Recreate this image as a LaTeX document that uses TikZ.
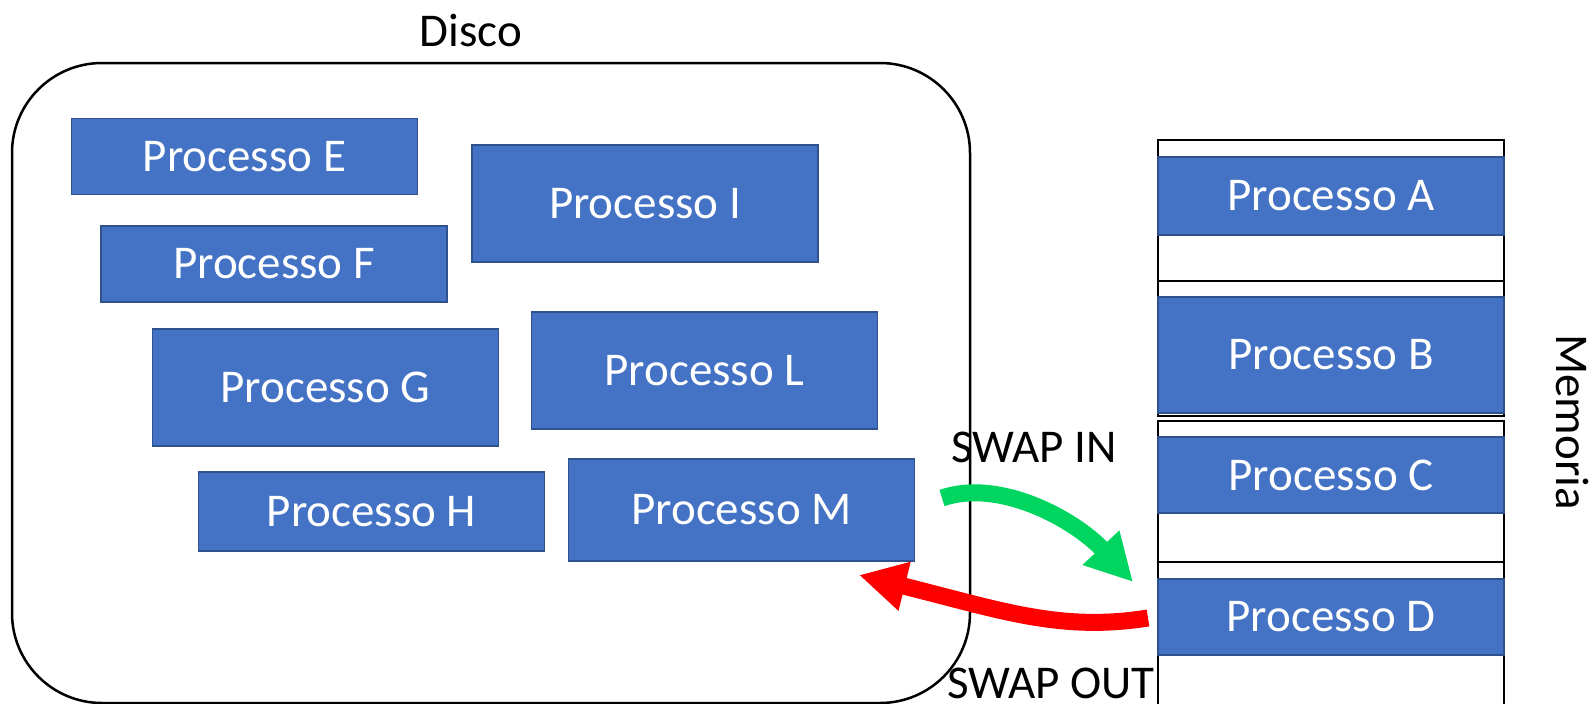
\documentclass[tikz,border=0pt]{standalone}
\usepackage{fontspec}
\setmainfont{Carlito}
\usetikzlibrary{arrows.meta}
\definecolor{procblue}{HTML}{4472C4}
\definecolor{procedge}{HTML}{2F528F}
\definecolor{swapgreen}{HTML}{00D65F}
\definecolor{swapred}{HTML}{FF0000}
\tikzset{
  bigfont/.style={font=\fontsize{47}{56}\selectfont},
  proc/.style={bigfont, draw=procedge, line width=1.5pt, fill=procblue, text=white,
    minimum width=346pt, minimum height=#1, inner sep=0pt},
  proc/.default=76pt,
  memseg/.style={draw=black, line width=2pt, fill=white},
  swaparrow/.style={line width=17pt, -{Triangle[length=47pt, width=47pt]}}
}

\begin{document}
\begin{tikzpicture}[x=1pt, y=-1pt]
    \useasboundingbox (0,0) rectangle (1593,704);
    %the disk
    \draw[line width=2.5pt, rounded corners=90pt] (12,63) rectangle (970,703);
    \node[bigfont] (disco) at (471,31) {Disco};
    %processes on disk
    \node[proc] (E) at (244.5,156.5) {Processo E};
    \node[proc=117pt] (I) at (645,203.5) {Processo I};
    \node[proc] (F) at (274,264) {Processo F};
    \node[proc=117pt] (G) at (325.5,387.5) {Processo G};
    \node[proc=117pt] (L) at (704.5,370.5) {Processo L};
    \node[proc=79pt] (H) at (371.5,511.5) {Processo H};
    \node[proc=102pt] (M) at (741.5,510) {Processo M};
    %the memory segments
    \draw[memseg] (1158,140) rectangle (1504,281);
    \draw[memseg] (1158,281) rectangle (1504,416);
    \draw[memseg] (1158,421) rectangle (1504,562);
    \draw[memseg] (1158,562) rectangle (1504,706);
    %processes in memory
    \node[proc=78pt] (A) at (1331,196) {Processo A};
    \node[proc=116pt] (B) at (1331,355) {Processo B};
    \node[proc=76pt] (C) at (1331,475) {Processo C};
    \node[proc=76pt] (D) at (1331,617) {Processo D};
    \node[bigfont, rotate=-90] (memoria) at (1572,422) {Memoria};
    %swap arrows
    \coordinate (inStart) at (942,498);
    \coordinate (inEnd) at (1133,582);
    \coordinate (outStart) at (1148,618);
    \coordinate (outEnd) at (859,575);
    \draw[swaparrow, swapgreen] (inStart) .. controls (1000,478) and (1075,520) .. (inEnd);
    \draw[swaparrow, swapred] (outStart) .. controls (1060,632) and (1000,610) .. (outEnd);
    \node[bigfont] (swapin) at (1034,447) {SWAP IN};
    \node[bigfont, inner sep=0pt] (swapout) at (1051,683) {SWAP OUT};
\end{tikzpicture}
\end{document}
